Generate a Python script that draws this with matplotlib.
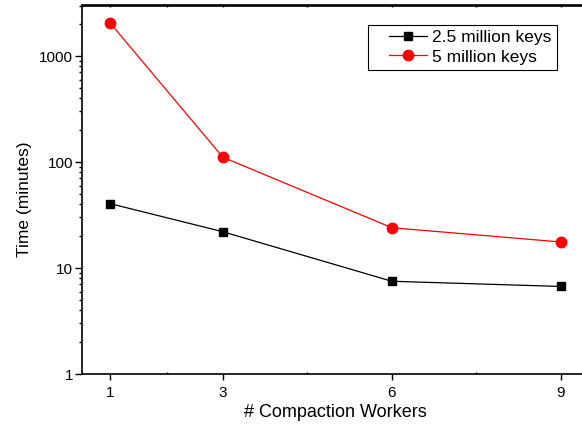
"""Compaction time vs number of workers, log scale."""

import matplotlib
matplotlib.use("Agg")
import matplotlib.pyplot as plt
from matplotlib.legend_handler import HandlerLine2D
from matplotlib.lines import Line2D
from matplotlib.ticker import FixedLocator, FixedFormatter, LogLocator, NullFormatter

plt.rcParams["font.family"] = ["Liberation Sans", "DejaVu Sans"]

workers = [1, 3, 6, 9]
keys_2_5m = [40.5, 22, 7.5, 6.7]
keys_5m = [2050, 111, 24, 17.6]
xtick_labels = ["1", "3", "6", "9"]

fig = plt.figure(figsize=(5.82, 4.29), dpi=100)
# axes extends slightly past the right edge, as in the original figure
ax = fig.add_axes([82 / 582, 55 / 429, 507 / 582, 368.5 / 429])

ax.plot(workers, keys_2_5m, color="black", lw=0.9, marker="s", ms=5.5,
        label="2.5 million keys")
ax.plot(workers, keys_5m, color="red", lw=0.9, marker="o", ms=7.5,
        label="5 million keys")

ax.set_yscale("log")
ax.set_ylim(1, 3000)
ax.set_xlim(0.5, 9.5)

ax.xaxis.set_major_locator(FixedLocator(workers))
ax.xaxis.set_major_formatter(FixedFormatter(xtick_labels))
ax.xaxis.set_minor_locator(FixedLocator([2, 4.5, 7.5]))
ax.yaxis.set_major_locator(FixedLocator([1, 10, 100, 1000]))
ax.yaxis.set_major_formatter(FixedFormatter(["1", "10", "100", "1000"]))
ax.yaxis.set_minor_locator(LogLocator(base=10, subs=range(2, 10)))
ax.yaxis.set_minor_formatter(NullFormatter())

ax.tick_params(axis="y", which="major", direction="out", length=5, width=1,
               labelsize=11, pad=1.5)
ax.tick_params(axis="y", which="minor", direction="out", length=2.5, width=1)
ax.tick_params(axis="x", which="major", direction="out", length=4.3, width=1,
               labelsize=11, pad=4)
ax.tick_params(axis="x", which="minor", direction="in", length=1.5, width=1)
ax.spines["right"].set_visible(False)
for s in ["left", "bottom", "top"]:
    ax.spines[s].set_linewidth(1.2)

# small inward ticks on the top spine
top = ax.secondary_xaxis("top")
top.xaxis.set_major_locator(FixedLocator(workers))
top.xaxis.set_minor_locator(FixedLocator([2, 4.5, 7.5]))
top.tick_params(which="both", direction="in", length=1.5, width=1,
                labeltop=False)
top.spines["top"].set_linewidth(1.2)

ax.set_xlabel("# Compaction Workers", fontsize=13, labelpad=3)
ax.set_ylabel("Time (minutes)", fontsize=12.5)
ax.yaxis.set_label_coords(-0.099, 0.473)

leg = ax.legend(loc="upper right", bbox_to_anchor=(0.936, 0.948), fontsize=12.5,
                fancybox=False, edgecolor="black", framealpha=1,
                handlelength=3.1, borderpad=0.3, labelspacing=0.25,
                handletextpad=0.3, borderaxespad=0,
                handler_map={Line2D: HandlerLine2D(xpad=0.9)})
leg.get_frame().set_linewidth(0.8)

fig.savefig("out.png", dpi=100)
plt.close(fig)
